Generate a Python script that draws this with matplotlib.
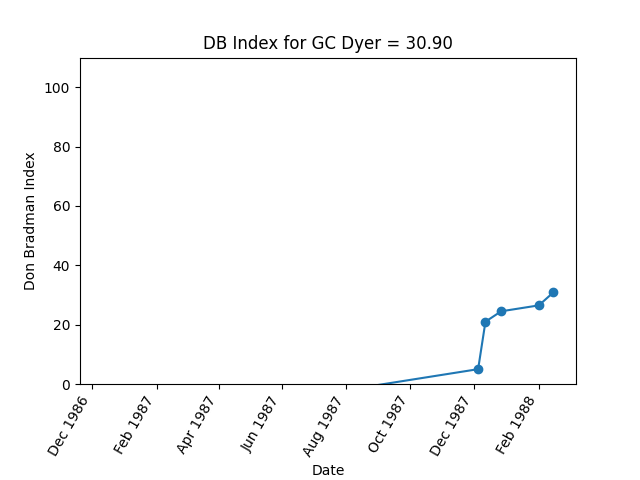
import datetime as dt
import matplotlib
matplotlib.use("Agg")
import matplotlib.pyplot as plt
import matplotlib.dates as mdates

dates = [dt.date(1986, 12, 11), dt.date(1987, 12, 5), dt.date(1987, 12, 12),
         dt.date(1987, 12, 27), dt.date(1988, 2, 1), dt.date(1988, 2, 15)]
db_index = [-15.0, 5.0, 21.0, 24.5, 26.5, 30.9]

fig, ax = plt.subplots(figsize=(6.4, 4.8), dpi=100)
ax.plot(dates, db_index, marker='o')
ax.set_ylim(0, 110)
ax.set_title("DB Index for GC Dyer = 30.90")
ax.set_xlabel("Date")
ax.set_ylabel("Don Bradman Index")
ax.xaxis.set_major_locator(mdates.MonthLocator(bymonth=[2, 4, 6, 8, 10, 12]))
ax.xaxis.set_major_formatter(mdates.DateFormatter('%b %Y'))
plt.setp(ax.get_xticklabels(), rotation=60, ha='right')
fig.subplots_adjust(bottom=0.2)
fig.savefig("out.png")
